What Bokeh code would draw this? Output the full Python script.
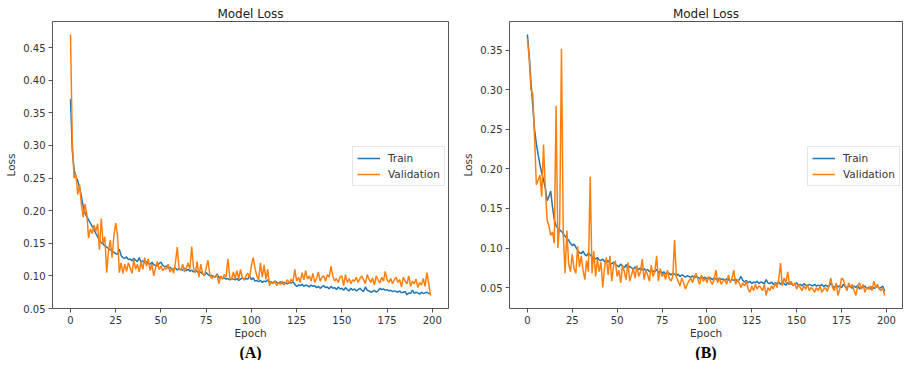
from bokeh.plotting import figure
from bokeh.layouts import row
from bokeh.models import Range1d, FixedTicker, PrintfTickFormatter, Title
from bokeh.embed import file_html
from bokeh.resources import INLINE

epochs = list(range(200))

a_train = [
    0.371, 0.292, 0.262, 0.252, 0.246, 0.236, 0.222, 0.207, 0.196, 0.191,
    0.186, 0.181, 0.176, 0.171, 0.165, 0.160, 0.155, 0.151, 0.149, 0.146,
    0.144, 0.142, 0.140, 0.138, 0.136, 0.134, 0.133, 0.141, 0.131, 0.128,
    0.127, 0.129, 0.125, 0.126, 0.123, 0.127, 0.124, 0.122, 0.128, 0.121,
    0.123, 0.120, 0.122, 0.119, 0.118, 0.121, 0.117, 0.116, 0.115, 0.119,
    0.121, 0.116, 0.114, 0.115, 0.112, 0.113, 0.111, 0.110, 0.112, 0.109,
    0.111, 0.110, 0.109, 0.112, 0.108, 0.110, 0.107, 0.109, 0.106, 0.108,
    0.107, 0.104, 0.106, 0.103, 0.101, 0.105, 0.102, 0.100, 0.101, 0.099,
    0.098, 0.103, 0.097, 0.099, 0.096, 0.097, 0.095, 0.096, 0.094, 0.096,
    0.095, 0.094, 0.096, 0.093, 0.095, 0.097, 0.094, 0.096, 0.095, 0.100,
    0.094, 0.097, 0.092, 0.093, 0.091, 0.093, 0.090, 0.092, 0.091, 0.094,
    0.090, 0.091, 0.089, 0.092, 0.090, 0.089, 0.091, 0.088, 0.090, 0.089,
    0.088, 0.090, 0.089, 0.091, 0.087, 0.084, 0.086, 0.085, 0.087, 0.084,
    0.086, 0.085, 0.083, 0.086, 0.084, 0.085, 0.082, 0.084, 0.081, 0.083,
    0.085, 0.082, 0.083, 0.080, 0.084, 0.081, 0.082, 0.079, 0.083, 0.080,
    0.081, 0.078, 0.082, 0.079, 0.077, 0.081, 0.078, 0.080, 0.077, 0.079,
    0.081, 0.078, 0.076, 0.083, 0.078, 0.077, 0.075, 0.076, 0.078, 0.075,
    0.077, 0.081, 0.079, 0.080, 0.078, 0.079, 0.077, 0.078, 0.076, 0.077,
    0.076, 0.075, 0.077, 0.074, 0.075, 0.076, 0.071, 0.074, 0.073, 0.078,
    0.073, 0.075, 0.074, 0.072, 0.075, 0.073, 0.074, 0.075, 0.073, 0.072,
]

a_val = [
    0.470, 0.305, 0.250, 0.255, 0.225, 0.240, 0.210, 0.190, 0.210, 0.195,
    0.158, 0.172, 0.165, 0.178, 0.168, 0.180, 0.140, 0.188, 0.150, 0.160,
    0.105, 0.138, 0.155, 0.128, 0.162, 0.181, 0.162, 0.105, 0.120, 0.104,
    0.118, 0.107, 0.120, 0.112, 0.104, 0.125, 0.110, 0.118, 0.106, 0.122,
    0.110, 0.128, 0.115, 0.126, 0.108, 0.118, 0.100, 0.112, 0.122, 0.110,
    0.115, 0.108, 0.112, 0.110, 0.118, 0.106, 0.112, 0.104, 0.120, 0.144,
    0.112, 0.108, 0.118, 0.106, 0.112, 0.120, 0.110, 0.145, 0.112, 0.105,
    0.122, 0.098, 0.118, 0.104, 0.100, 0.112, 0.124, 0.102, 0.096, 0.100,
    0.098, 0.102, 0.088, 0.100, 0.095, 0.102, 0.098, 0.126, 0.098, 0.094,
    0.106, 0.096, 0.108, 0.095, 0.110, 0.097, 0.094, 0.100, 0.104, 0.097,
    0.116, 0.128, 0.112, 0.100, 0.094, 0.120, 0.098, 0.117, 0.095, 0.110,
    0.085, 0.090, 0.088, 0.092, 0.085, 0.090, 0.087, 0.092, 0.086, 0.090,
    0.094, 0.088, 0.095, 0.091, 0.110, 0.092, 0.098, 0.090, 0.105, 0.094,
    0.108, 0.095, 0.100, 0.092, 0.104, 0.090, 0.096, 0.106, 0.092, 0.098,
    0.100, 0.092, 0.102, 0.098, 0.115, 0.100, 0.092, 0.096, 0.090, 0.098,
    0.100, 0.085, 0.102, 0.090, 0.096, 0.088, 0.094, 0.092, 0.098, 0.090,
    0.096, 0.100, 0.094, 0.088, 0.102, 0.095, 0.090, 0.097, 0.086, 0.100,
    0.094, 0.089, 0.098, 0.092, 0.107, 0.094, 0.090, 0.096, 0.088, 0.094,
    0.098, 0.090, 0.094, 0.083, 0.098, 0.092, 0.088, 0.100, 0.084, 0.092,
    0.088, 0.095, 0.082, 0.090, 0.086, 0.096, 0.084, 0.105, 0.088, 0.070,
]

b_train = [
    0.370, 0.345, 0.310, 0.280, 0.250, 0.232, 0.218, 0.205, 0.195, 0.186,
    0.176, 0.160, 0.165, 0.172, 0.152, 0.136, 0.128, 0.125, 0.123, 0.121,
    0.118, 0.115, 0.112, 0.110, 0.106, 0.103, 0.105, 0.101, 0.097, 0.094,
    0.093, 0.096, 0.092, 0.090, 0.094, 0.091, 0.089, 0.087, 0.086, 0.088,
    0.085, 0.084, 0.086, 0.083, 0.082, 0.084, 0.081, 0.080, 0.082, 0.079,
    0.078, 0.076, 0.080, 0.077, 0.075, 0.079, 0.074, 0.077, 0.075, 0.073,
    0.076, 0.074, 0.073, 0.075, 0.072, 0.074, 0.071, 0.073, 0.070, 0.072,
    0.071, 0.070, 0.073, 0.069, 0.071, 0.068, 0.070, 0.067, 0.069, 0.068,
    0.066, 0.068, 0.067, 0.065, 0.067, 0.064, 0.066, 0.065, 0.063, 0.065,
    0.064, 0.063, 0.065, 0.062, 0.064, 0.063, 0.061, 0.064, 0.062, 0.063,
    0.061, 0.063, 0.062, 0.060, 0.062, 0.061, 0.059, 0.062, 0.060, 0.061,
    0.059, 0.061, 0.060, 0.058, 0.060, 0.059, 0.061, 0.058, 0.060, 0.064,
    0.059, 0.057, 0.059, 0.056, 0.058, 0.055, 0.057, 0.056, 0.058, 0.055,
    0.057, 0.056, 0.055, 0.060, 0.056, 0.055, 0.057, 0.054, 0.056, 0.055,
    0.057, 0.054, 0.056, 0.055, 0.053, 0.056, 0.054, 0.055, 0.053, 0.054,
    0.056, 0.053, 0.054, 0.052, 0.055, 0.053, 0.052, 0.054, 0.053, 0.052,
    0.054, 0.052, 0.053, 0.052, 0.054, 0.051, 0.053, 0.052, 0.051, 0.056,
    0.052, 0.050, 0.053, 0.051, 0.052, 0.050, 0.054, 0.051, 0.050, 0.052,
    0.051, 0.049, 0.052, 0.050, 0.053, 0.048, 0.051, 0.050, 0.052, 0.049,
    0.050, 0.048, 0.051, 0.049, 0.050, 0.052, 0.049, 0.050, 0.052, 0.045,
]

b_val = [
    0.365, 0.340, 0.300, 0.295, 0.240, 0.180, 0.186, 0.192, 0.165, 0.231,
    0.176, 0.135, 0.128, 0.116, 0.120, 0.106, 0.280, 0.100, 0.130, 0.352,
    0.118, 0.068, 0.122, 0.080, 0.070, 0.092, 0.074, 0.068, 0.102, 0.076,
    0.090, 0.072, 0.060, 0.084, 0.070, 0.190, 0.068, 0.096, 0.064, 0.086,
    0.070, 0.082, 0.050, 0.076, 0.088, 0.066, 0.090, 0.058, 0.078, 0.084,
    0.064, 0.072, 0.056, 0.078, 0.070, 0.060, 0.082, 0.058, 0.066, 0.074,
    0.062, 0.078, 0.064, 0.070, 0.086, 0.060, 0.072, 0.066, 0.058, 0.078,
    0.064, 0.070, 0.090, 0.058, 0.074, 0.064, 0.068, 0.060, 0.072, 0.062,
    0.058, 0.064, 0.110, 0.064, 0.058, 0.052, 0.062, 0.056, 0.048, 0.054,
    0.058, 0.062, 0.056, 0.064, 0.068, 0.060, 0.054, 0.066, 0.058, 0.062,
    0.056, 0.064, 0.058, 0.054, 0.060, 0.072, 0.056, 0.062, 0.054, 0.058,
    0.060, 0.054, 0.066, 0.056, 0.062, 0.072, 0.054, 0.060, 0.056, 0.050,
    0.056, 0.052, 0.058, 0.048, 0.044, 0.052, 0.046, 0.054, 0.048, 0.052,
    0.050, 0.046, 0.054, 0.040, 0.050, 0.046, 0.052, 0.048, 0.056, 0.050,
    0.060, 0.081, 0.052, 0.062, 0.056, 0.070, 0.054, 0.058, 0.052, 0.056,
    0.048, 0.054, 0.050, 0.046, 0.052, 0.048, 0.054, 0.046, 0.050, 0.048,
    0.044, 0.050, 0.046, 0.052, 0.044, 0.048, 0.050, 0.045, 0.052, 0.062,
    0.050, 0.046, 0.056, 0.040, 0.048, 0.062, 0.060, 0.052, 0.046, 0.056,
    0.050, 0.054, 0.046, 0.040, 0.052, 0.056, 0.048, 0.054, 0.044, 0.050,
    0.048, 0.052, 0.046, 0.058, 0.050, 0.054, 0.048, 0.046, 0.050, 0.040,
]

x_ticks = [0, 25, 50, 75, 100, 125, 150, 175, 200]
a_y_ticks = [0.05, 0.10, 0.15, 0.20, 0.25, 0.30, 0.35, 0.40, 0.45]
b_y_ticks = [0.05, 0.10, 0.15, 0.20, 0.25, 0.30, 0.35]
panel_labels = ["(A)", "(B)"]
series_names = ["Train", "Validation"]

BLUE = "#1f77b4"
ORANGE = "#ff7f0e"
TXT = "#333333"
FONT = "DejaVu Sans"


def make_panel(letter, train, val, yr, yticks, width, mbl, mbr, legend_x):
    p = figure(width=width, height=360, output_backend="svg", toolbar_location=None,
               x_range=Range1d(-9.95, 208.95), y_range=Range1d(*yr),
               min_border_left=mbl, min_border_right=mbr,
               min_border_top=21, min_border_bottom=0,
               title="Model Loss")
    p.title.align = "center"
    p.title.text_font = FONT
    p.title.text_font_size = "12px"
    p.title.text_font_style = "normal"
    p.title.text_color = "#222222"
    p.title.standoff = 2
    p.title.offset = 0

    p.line(epochs, train, line_color=BLUE, line_width=1.5, legend_label=series_names[0])
    p.line(epochs, val, line_color=ORANGE, line_width=1.5, legend_label=series_names[1])

    p.xgrid.visible = False
    p.ygrid.visible = False
    p.outline_line_color = "#555555"
    p.outline_line_width = 1
    p.outline_line_alpha = 1

    for ax in (p.xaxis[0], p.yaxis[0]):
        ax.axis_line_color = None
        ax.major_tick_line_color = "#555555"
        ax.major_tick_out = 4
        ax.major_tick_in = 0
        ax.minor_tick_line_color = None
        ax.major_label_text_font = FONT
        ax.major_label_text_font_size = "10px"
        ax.major_label_text_color = TXT
        ax.major_label_standoff = 3
        ax.axis_label_text_font = FONT
        ax.axis_label_text_font_size = "10.5px"
        ax.axis_label_text_font_style = "normal"
        ax.axis_label_text_color = TXT

    p.xaxis.ticker = FixedTicker(ticks=x_ticks)
    p.yaxis.ticker = FixedTicker(ticks=yticks)
    p.yaxis.formatter = PrintfTickFormatter(format="%.2f")
    p.xaxis.axis_label = "Epoch"
    p.yaxis.axis_label = "Loss"
    p.xaxis.axis_label_standoff = 0
    p.yaxis.axis_label_standoff = 3

    lg = p.legend[0]
    lg.location = (legend_x, 122)
    lg.margin = 0
    lg.padding = 4
    lg.spacing = 2
    lg.glyph_width = 23
    lg.glyph_height = 14
    lg.label_height = 14
    lg.label_standoff = 8
    lg.label_text_font = FONT
    lg.label_text_font_size = "10.5px"
    lg.label_text_color = TXT
    lg.border_line_color = "#cccccc"
    lg.border_line_width = 1
    lg.background_fill_alpha = 0.8

    sub = Title(text=letter, align="center", text_font="Liberation Serif",
                text_font_size="16px", text_font_style="bold", text_color="#000000",
                standoff=0, offset=0)
    p.add_layout(sub, "below")
    return p


pa = make_panel(panel_labels[0], a_train, a_val, (0.05, 0.49), a_y_ticks, 451, 52, 3, 300)
pb = make_panel(panel_labels[1], b_train, b_val, (0.0235, 0.3865), b_y_ticks, 452, 58, 1, 298)

layout = row(pa, pb, spacing=0)
open("out.html", "w").write(file_html(layout, INLINE))
